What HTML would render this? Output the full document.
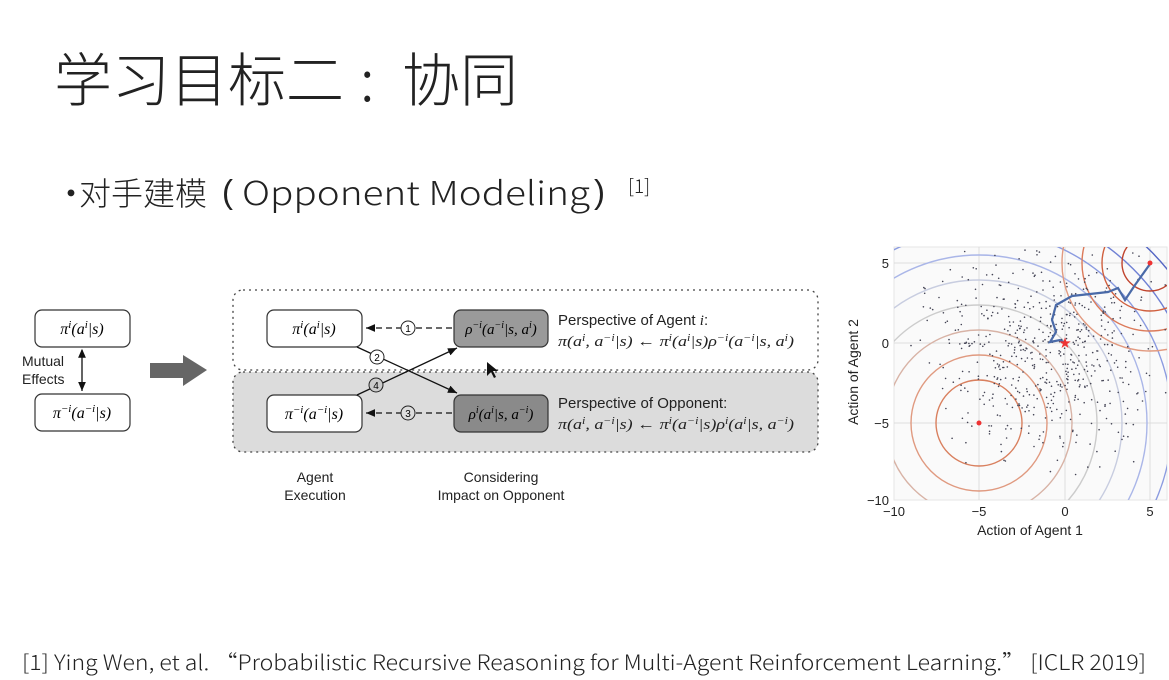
<!DOCTYPE html>
<html><head><meta charset="utf-8"><style>
html,body{margin:0;padding:0;background:#fff;}
body{width:1169px;height:680px;overflow:hidden;position:relative;font-family:"Liberation Sans","Noto Sans CJK SC",sans-serif;}
svg{position:absolute;left:0;top:0;}
.m{font-family:"Liberation Serif",serif;font-style:italic;}
</style></head><body>
<svg width="1169" height="680" viewBox="0 0 1169 680" xmlns="http://www.w3.org/2000/svg">
<defs>
<marker id="ah" markerWidth="8" markerHeight="8" refX="7" refY="4" orient="auto"><path d="M0,1 L7,4 L0,7 Z" fill="#111"/></marker>
<marker id="ahs" markerWidth="8" markerHeight="8" refX="1" refY="4" orient="auto"><path d="M7,1 L0,4 L7,7 Z" fill="#111"/></marker>
<clipPath id="pc"><rect x="894" y="247" width="273" height="253"/></clipPath>
</defs>
<text x="54" y="101" font-size="58" fill="#222" font-family="Noto Sans CJK SC, sans-serif" font-weight="300">学习目标二</text>
<text x="360" y="101" font-size="58" fill="#222" font-family="Noto Sans CJK SC, sans-serif" font-weight="300">:</text>
<text x="402" y="101" font-size="58" fill="#222" font-family="Noto Sans CJK SC, sans-serif" font-weight="300">协同</text>
<text x="55" y="205" font-size="32" fill="#222" font-family="Noto Sans CJK SC, sans-serif">•</text>
<text x="79" y="205" font-size="32" fill="#222" font-family="Noto Sans CJK SC, sans-serif" font-weight="300">对手建模</text>
<text x="222" y="203" font-size="33" fill="#222" font-family="Liberation Sans, sans-serif">(</text>
<text x="242" y="205" font-size="33" fill="#222" font-family="Noto Sans CJK SC, sans-serif" font-weight="300" textLength="348" lengthAdjust="spacingAndGlyphs">Opponent Modeling</text>
<text x="594" y="203" font-size="33" fill="#222" font-family="Liberation Sans, sans-serif">)</text>
<text x="628" y="193" font-size="19" fill="#222" font-family="Noto Sans CJK SC, sans-serif" font-weight="300">[1]</text>

<!-- left diagram -->
<rect x="35" y="310" width="95" height="37" rx="7" fill="#fff" stroke="#333" stroke-width="1.2"/>
<text x="82" y="334" font-size="16" text-anchor="middle" class="m">π<tspan dy="-6" font-size="11">i</tspan><tspan dy="6">(a</tspan><tspan dy="-6" font-size="11">i</tspan><tspan dy="6">|s)</tspan></text>
<rect x="35" y="394" width="95" height="37" rx="7" fill="#fff" stroke="#333" stroke-width="1.2"/>
<text x="82" y="418" font-size="16" text-anchor="middle" class="m">π<tspan dy="-6" font-size="11">−i</tspan><tspan dy="6">(a</tspan><tspan dy="-6" font-size="11">−i</tspan><tspan dy="6">|s)</tspan></text>
<line x1="82" y1="350" x2="82" y2="391" stroke="#111" stroke-width="1.3" marker-end="url(#ah)" marker-start="url(#ahs)"/>
<text x="22" y="366" font-size="14" fill="#222">Mutual</text>
<text x="22" y="384" font-size="14" fill="#222">Effects</text>
<path d="M150,363 L183,363 L183,355 L207,370 L183,386 L183,378 L150,378 Z" fill="#666"/>

<!-- containers -->
<rect x="233" y="372" width="585" height="80" rx="10" fill="#dcdcdc" stroke="#444" stroke-width="1.3" stroke-dasharray="2,4"/>
<rect x="233" y="290" width="585" height="80" rx="10" fill="none" stroke="#444" stroke-width="1.3" stroke-dasharray="2,4"/>

<rect x="267" y="310" width="95" height="37" rx="7" fill="#fff" stroke="#333" stroke-width="1.2"/>
<text x="314" y="334" font-size="16" text-anchor="middle" class="m">π<tspan dy="-6" font-size="11">i</tspan><tspan dy="6">(a</tspan><tspan dy="-6" font-size="11">i</tspan><tspan dy="6">|s)</tspan></text>
<rect x="267" y="395" width="95" height="37" rx="7" fill="#fff" stroke="#333" stroke-width="1.2"/>
<text x="314" y="419" font-size="16" text-anchor="middle" class="m">π<tspan dy="-6" font-size="11">−i</tspan><tspan dy="6">(a</tspan><tspan dy="-6" font-size="11">−i</tspan><tspan dy="6">|s)</tspan></text>
<rect x="454" y="310" width="94" height="37" rx="7" fill="#9a9a9a" stroke="#333" stroke-width="1.2"/>
<text x="501" y="334" font-size="15" text-anchor="middle" class="m">ρ<tspan dy="-6" font-size="10">−i</tspan><tspan dy="6">(a</tspan><tspan dy="-6" font-size="10">−i</tspan><tspan dy="6">|s, a</tspan><tspan dy="-6" font-size="10">i</tspan><tspan dy="6">)</tspan></text>
<rect x="454" y="395" width="94" height="37" rx="7" fill="#8a8a8a" stroke="#333" stroke-width="1.2"/>
<text x="501" y="419" font-size="15" text-anchor="middle" class="m">ρ<tspan dy="-6" font-size="10">i</tspan><tspan dy="6">(a</tspan><tspan dy="-6" font-size="10">i</tspan><tspan dy="6">|s, a</tspan><tspan dy="-6" font-size="10">−i</tspan><tspan dy="6">)</tspan></text>

<line x1="452" y1="328" x2="366" y2="328" stroke="#111" stroke-width="1.3" stroke-dasharray="6,4" marker-end="url(#ah)"/>
<circle cx="408" cy="328" r="7" fill="#fff" stroke="#222"/><text x="408" y="332" font-size="10" text-anchor="middle">1</text>
<line x1="452" y1="413" x2="366" y2="413" stroke="#111" stroke-width="1.3" stroke-dasharray="6,4" marker-end="url(#ah)"/>
<circle cx="408" cy="413" r="7" fill="#ddd" stroke="#222"/><text x="408" y="417" font-size="10" text-anchor="middle">3</text>
<line x1="357" y1="347" x2="457" y2="393" stroke="#111" stroke-width="1.3" marker-end="url(#ah)"/>
<line x1="357" y1="395" x2="457" y2="348" stroke="#111" stroke-width="1.3" marker-end="url(#ah)"/>
<circle cx="377" cy="357" r="7" fill="#fff" stroke="#222"/><text x="377" y="361" font-size="10" text-anchor="middle">2</text>
<circle cx="376" cy="385" r="7" fill="#ccc" stroke="#222"/><text x="376" y="389" font-size="10" text-anchor="middle">4</text>
<path d="M487,362 L487,376 L491,372 L494,378 L496,377 L493,371 L498,371 Z" fill="#111"/>

<text x="558" y="325" font-size="15" fill="#222">Perspective of Agent <tspan class="m">i</tspan>:</text>
<text x="558" y="346" font-size="15" class="m" fill="#222" textLength="236" lengthAdjust="spacingAndGlyphs">π(a<tspan dy="-5" font-size="10">i</tspan><tspan dy="5">, a</tspan><tspan dy="-5" font-size="10">−i</tspan><tspan dy="5">|s) ← π</tspan><tspan dy="-5" font-size="10">i</tspan><tspan dy="5">(a</tspan><tspan dy="-5" font-size="10">i</tspan><tspan dy="5">|s)ρ</tspan><tspan dy="-5" font-size="10">−i</tspan><tspan dy="5">(a</tspan><tspan dy="-5" font-size="10">−i</tspan><tspan dy="5">|s, a</tspan><tspan dy="-5" font-size="10">i</tspan><tspan dy="5">)</tspan></text>
<text x="558" y="408" font-size="15" fill="#222">Perspective of Opponent:</text>
<text x="558" y="429" font-size="15" class="m" fill="#222" textLength="236" lengthAdjust="spacingAndGlyphs">π(a<tspan dy="-5" font-size="10">i</tspan><tspan dy="5">, a</tspan><tspan dy="-5" font-size="10">−i</tspan><tspan dy="5">|s) ← π</tspan><tspan dy="-5" font-size="10">i</tspan><tspan dy="5">(a</tspan><tspan dy="-5" font-size="10">−i</tspan><tspan dy="5">|s)ρ</tspan><tspan dy="-5" font-size="10">i</tspan><tspan dy="5">(a</tspan><tspan dy="-5" font-size="10">i</tspan><tspan dy="5">|s, a</tspan><tspan dy="-5" font-size="10">−i</tspan><tspan dy="5">)</tspan></text>

<text x="315" y="482" font-size="14" text-anchor="middle" fill="#222">Agent</text>
<text x="315" y="500" font-size="14" text-anchor="middle" fill="#222">Execution</text>
<text x="501" y="482" font-size="14" text-anchor="middle" fill="#222">Considering</text>
<text x="501" y="500" font-size="14" text-anchor="middle" fill="#222">Impact on Opponent</text>

<!-- plot -->
<rect x="894" y="247" width="273" height="253" fill="#fafafa" stroke="#e6e6e6"/>
<g stroke="#ddd" stroke-width="1">
<line x1="979" y1="247" x2="979" y2="500"/><line x1="1065" y1="247" x2="1065" y2="500"/><line x1="1150" y1="247" x2="1150" y2="500"/>
<line x1="894" y1="263" x2="1167" y2="263"/><line x1="894" y1="343" x2="1167" y2="343"/><line x1="894" y1="423" x2="1167" y2="423"/>
</g>
<g clip-path="url(#pc)" fill="none" stroke-width="1.4">
<ellipse cx="979" cy="423" rx="43" ry="43" stroke="#d9805f"/>
<ellipse cx="979" cy="423" rx="68" ry="68" stroke="#e09a80"/>
<ellipse cx="979" cy="423" rx="93" ry="93" stroke="#d8b3a6"/>
<ellipse cx="979" cy="423" rx="118" ry="118" stroke="#ccc"/>
<ellipse cx="979" cy="423" rx="143" ry="143" stroke="#c8cde0"/>
<ellipse cx="979" cy="423" rx="168" ry="168" stroke="#aab6e8"/>
<ellipse cx="979" cy="423" rx="193" ry="193" stroke="#8b9be0"/>
<ellipse cx="979" cy="423" rx="218" ry="218" stroke="#6f80d4"/>
<ellipse cx="979" cy="423" rx="243" ry="243" stroke="#5466c4"/>
<ellipse cx="1150" cy="263" rx="28" ry="28" stroke="#c0442e"/>
<ellipse cx="1150" cy="263" rx="48" ry="48" stroke="#d0603f"/>
<ellipse cx="1150" cy="263" rx="68" ry="68" stroke="#dc7a5a"/>
<ellipse cx="1150" cy="263" rx="88" ry="88" stroke="#e29a80"/>
</g>
<g id="dots" fill="#445"></g>
<path d="M1150,264 L1135,285 L1125,300 L1118,288 L1108,292 L1090,294 L1072,296 L1056,305 L1052,320 L1056,332 L1050,342 L1060,340 L1065,343" fill="none" stroke="#4a6aa8" stroke-width="2.2"/>
<circle cx="979" cy="423" r="2.5" fill="#e33"/><circle cx="1150" cy="263" r="2.5" fill="#e33"/>
<text x="1065" y="347" font-size="12" fill="#e33" text-anchor="middle">★</text>
<g font-size="13" fill="#222">
<text x="889" y="268" text-anchor="end">5</text><text x="889" y="348" text-anchor="end">0</text>
<text x="889" y="428" text-anchor="end">−5</text><text x="889" y="505" text-anchor="end">−10</text>
<text x="894" y="516" text-anchor="middle">−10</text><text x="979" y="516" text-anchor="middle">−5</text>
<text x="1065" y="516" text-anchor="middle">0</text><text x="1150" y="516" text-anchor="middle">5</text>
</g>
<text x="1030" y="535" font-size="14" text-anchor="middle" fill="#222">Action of Agent 1</text>
<text transform="translate(858,372) rotate(-90)" font-size="14" text-anchor="middle" fill="#222">Action of Agent 2</text>

<text x="22" y="670" font-size="21" fill="#222" font-family="Noto Sans CJK SC, sans-serif" font-weight="300" textLength="1124" lengthAdjust="spacingAndGlyphs">[1] Ying Wen, et al.  “Probabilistic Recursive Reasoning for Multi-Agent Reinforcement Learning.”  [ICLR 2019]</text>
</svg>
<script>
var g=document.getElementById('dots'),s=7,ns='http://www.w3.org/2000/svg';
function r(){s=(s*16807)%2147483647;return s/2147483647;}
function n(){return (r()+r()+r()-1.5)*1.6;}
for(var i=0;i<600;i++){var x=1045+n()*65,y=350+n()*60;if(x<895||x>1166||y<248||y>499)continue;var c=document.createElementNS(ns,'circle');c.setAttribute('cx',x.toFixed(1));c.setAttribute('cy',y.toFixed(1));c.setAttribute('r','0.8');g.appendChild(c);}
</script>
</body></html>
